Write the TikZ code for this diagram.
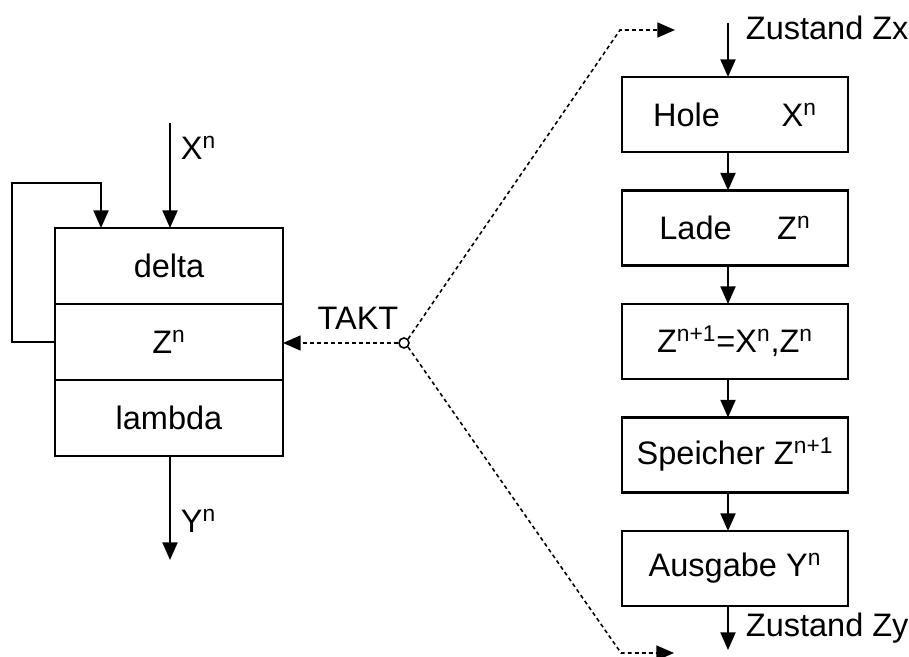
\documentclass[tikz,border=0pt]{standalone}
\usepackage{fontspec}
\setmainfont{Liberation Sans}
\usetikzlibrary{positioning,chains,arrows.meta}

\begin{document}
\begin{tikzpicture}[auto,
  font=\fontsize{18.5}{22}\selectfont,
  line width=1.2pt,
  cell/.style = {draw,minimum width=4.56cm,minimum height=1.52cm,
        inner sep=0pt,outer sep=0pt,on chain},
  stepbox/.style = {draw,minimum width=4.52cm,minimum height=1.5cm,
        inner sep=0pt,outer sep=0pt,on chain},
  clock/.style = {line width=0.9pt,dash pattern=on 2.2pt off 1.8pt}]
 \useasboundingbox (0,0) rectangle (18.18,13.14);
 % Automat: delta / Zustand / lambda
 \begin{scope}[start chain=going below,node distance=0pt]
 \node[cell] (delta) at (3.38,7.82) {delta};
 \node[cell] (zn)     {Z\textsuperscript{n}};
 \node[cell] (lambda) {lambda};
 \end{scope}
 % Ablauf eines Taktes
 \begin{scope}[start chain=going below,node distance=0.77cm]
 \node[stepbox] (hole) at (14.7,10.85) {Hole\hspace{1.9em}X\textsuperscript{n}};
 \node[stepbox] (lade)     {Lade\hspace{1.4em}Z\textsuperscript{n}};
 \node[stepbox] (calc)     {Z\textsuperscript{n+1}=X\textsuperscript{n},Z\textsuperscript{n}};
 \node[stepbox] (speicher) {Speicher Z\textsuperscript{n+1}};
 \node[stepbox] (ausgabe)  {Ausgabe Y\textsuperscript{n}};
 \end{scope}
 \coordinate (xin)  at (3.4,10.68);
 \coordinate (yout) at (3.4,1.94);
 \coordinate (fb)   at (0.24,9.48);
 \coordinate (fbin) at (2.02,9.48);
 \coordinate (zx)   at (14.56,12.68);
 \coordinate (zy)   at (14.56,0.14);
 \coordinate (up)   at (12.4,12.54);
 \coordinate (upend)   at (13.5,12.54);
 \coordinate (down)    at (12.42,0.08);
 \coordinate (downend) at (13.48,0.08);
 \node[circle,draw,line width=0.9pt,minimum size=0.2cm,inner sep=0pt] (takt) at (8.08,6.28) {};
 \node (taktlbl) at (7.16,6.78) {TAKT};
 \node[anchor=west] (xlbl) at (3.48,10.18) {X\textsuperscript{n}};
 \node[anchor=west] (ylbl) at (3.48,2.72) {Y\textsuperscript{n}};
 \node[anchor=west] (zxlbl) at (14.78,12.58) {Zustand Zx};
 \node[anchor=west] (zylbl) at (14.78,0.58) {Zustand Zy};
 \begin{scope}[-{Triangle[length=10pt,width=8.5pt]}]
  \draw (xin) -- (delta.north -| xin);
  \draw (zn.west) -| (fb) -- (fbin) -- (delta.north -| fbin);
  \draw (lambda.south -| yout) -- (yout);
  \draw (zx) -- (hole.north -| zx);
  \draw (hole.south -| zx) -- (lade.north -| zx);
  \draw (lade.south -| zx) -- (calc.north -| zx);
  \draw (calc.south -| zx) -- (speicher.north -| zx);
  \draw (speicher.south -| zx) -- (ausgabe.north -| zx);
  \draw (ausgabe.south -| zx) -- (zy);
  \draw[clock] (takt.west) -- (zn.east |- takt);
  \draw[clock] (takt.north east) -- (up) -- (upend);
  \draw[clock] (takt.south east) -- (down) -- (downend);
 \end{scope}
\end{tikzpicture}
\end{document}
